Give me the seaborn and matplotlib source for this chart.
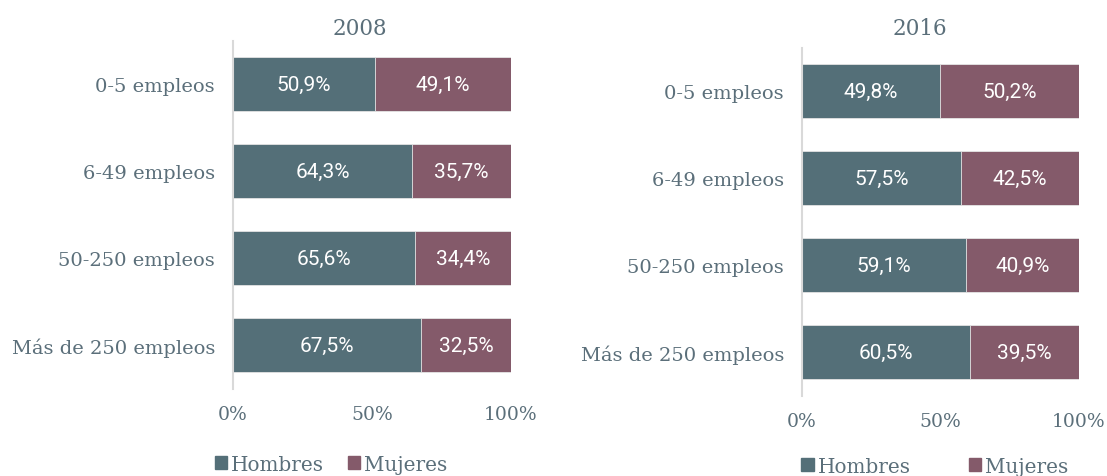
import numpy as np
import pandas as pd
import matplotlib
matplotlib.use("Agg")
import matplotlib.pyplot as plt
import seaborn as sns
from matplotlib.patches import Patch

# Datos
categorias = ["0-5 empleos", "6-49 empleos", "50-250 empleos", "Más de 250 empleos"]
hombres_2008 = [50.9, 64.3, 65.6, 67.5]
mujeres_2008 = [49.1, 35.7, 34.4, 32.5]
hombres_2016 = [49.8, 57.5, 59.1, 60.5]
mujeres_2016 = [50.2, 42.5, 40.9, 39.5]
anios = ["2008", "2016"]

c_hombres = "#546f78"
c_mujeres = "#845a6a"
c_texto = "#5b6f7a"

sns.set_theme(style="white")
plt.rcParams['font.family'] = ['DejaVu Serif']

fig = plt.figure(figsize=(11.07, 4.77), dpi=100)

# posiciones de los dos paneles (fracciones de figura)
ax1 = fig.add_axes([233 / 1107, 1 - 389.5 / 477, 278 / 1107, 348 / 477])
ax2 = fig.add_axes([802 / 1107, 1 - 396.5 / 477, 277 / 1107, 348 / 477])


def panel(ax, hombres, mujeres, titulo, title_x, title_pad, legend_x, legend_y, colsp):
    df = pd.DataFrame({
        "categoria": categorias,
        "Hombres": hombres,
        "Mujeres": mujeres,
    })
    df["total"] = df["Hombres"] + df["Mujeres"]

    sns.barplot(data=df, y="categoria", x="total", color=c_mujeres,
                width=0.62, ax=ax, edgecolor="#e6e6e6", linewidth=0.6,
                saturation=1)
    sns.barplot(data=df, y="categoria", x="Hombres", color=c_hombres,
                width=0.62, ax=ax, edgecolor="#e6e6e6", linewidth=0.6,
                saturation=1)

    # etiquetas dentro de las barras
    for i, row in df.iterrows():
        ax.text(row["Hombres"] / 2, i, f"{row['Hombres']:.1f}%".replace(".", ","),
                ha="center", va="center", color="white", fontsize=15,
                family="Roboto")
        ax.text(row["Hombres"] + row["Mujeres"] / 2, i,
                f"{row['Mujeres']:.1f}%".replace(".", ","),
                ha="center", va="center", color="white", fontsize=15,
                family="Roboto")

    ax.set_xlim(0, 100)
    ax.set_ylim(3.5, -0.5)
    ax.set_xticks([0, 50, 100])
    ax.set_xticklabels(["0%", "50%", "100%"])
    ax.set_xlabel("")
    ax.set_ylabel("")
    ax.set_title(titulo, color=c_texto, fontsize=15.5, pad=title_pad, x=title_x)
    ax.tick_params(axis="x", colors=c_texto, labelsize=13.5, length=0, pad=12)
    ax.tick_params(axis="y", colors=c_texto, labelsize=14, length=0, pad=13)

    for s in ["top", "right", "bottom"]:
        ax.spines[s].set_visible(False)
    ax.spines["left"].set_color("#d9d9d9")
    ax.spines["left"].set_linewidth(1.5)

    handles = [Patch(color=c_hombres, label="Hombres"),
               Patch(color=c_mujeres, label="Mujeres")]
    leg = ax.legend(handles=handles, loc="center", ncol=2,
                    bbox_to_anchor=(legend_x, legend_y), frameon=False,
                    handlelength=0.62, handleheight=0.62, handletextpad=0.2,
                    columnspacing=colsp, fontsize=14.4, borderpad=0.2)
    for t in leg.get_texts():
        t.set_color(c_texto)


panel(ax1, hombres_2008, mujeres_2008, anios[0], 0.457, 5, 0.353, -0.217, 1.2)
panel(ax2, hombres_2016, mujeres_2016, anios[1], 0.426, 10, 0.48, -0.203, 2.9)

fig.savefig("out.png", dpi=100)
